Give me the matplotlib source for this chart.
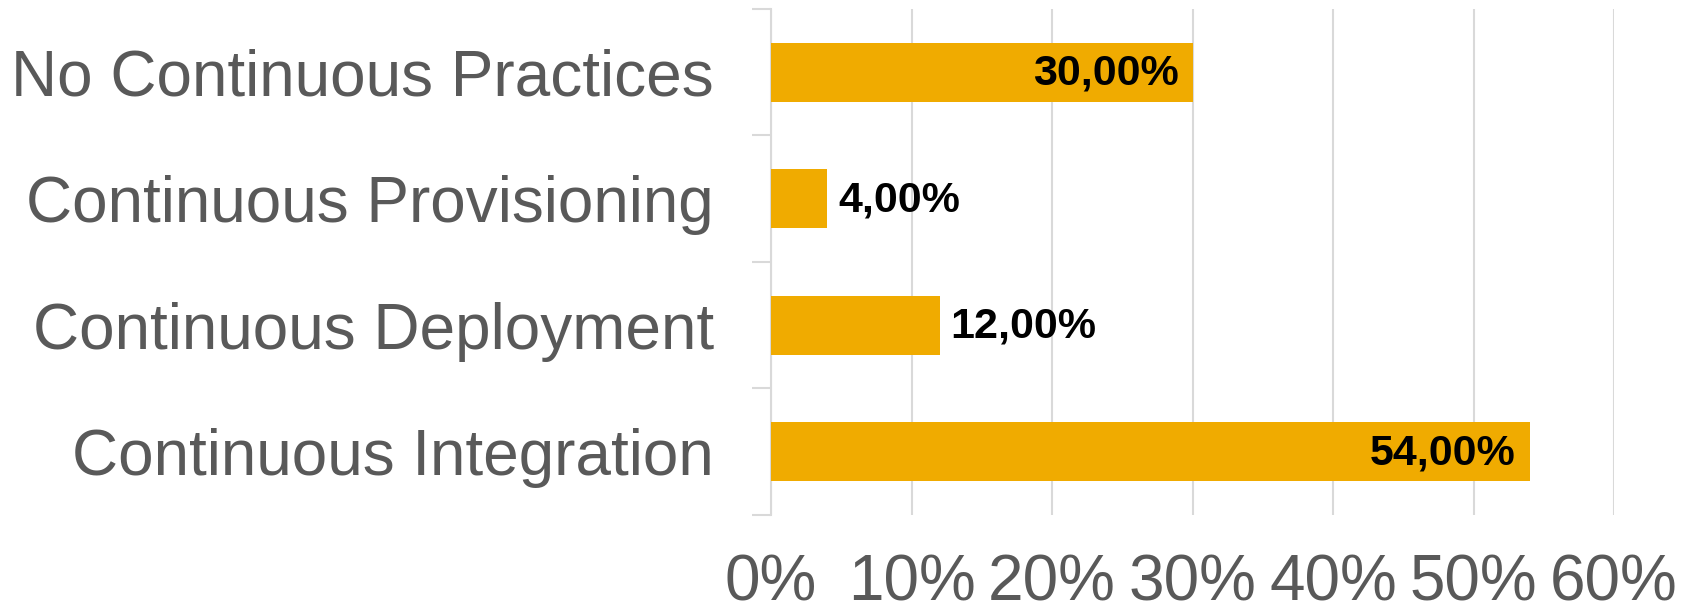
import matplotlib
matplotlib.use("Agg")
import matplotlib.pyplot as plt
from matplotlib.ticker import FixedLocator, PercentFormatter

categories = ["Continuous Integration", "Continuous Deployment",
              "Continuous Provisioning", "No Continuous Practices"]
shares = [54.0, 12.0, 4.0, 30.0]
x_ticks = [0, 10, 20, 30, 40, 50, 60]
inside_labels = {"Continuous Integration", "No Continuous Practices"}

BAR = "#F0AB00"
GRID = "#D9D9D9"
TEXT = "#595959"

fig = plt.figure(figsize=(16.96, 6.16), dpi=100)
ax = fig.add_axes([0.4546, 0.164, 0.9517 - 0.4546, 0.9854 - 0.164])

y = list(range(len(categories)))
ax.barh(y, shares, height=0.47, color=BAR, zorder=3)

ax.set_xlim(0, 60)
ax.set_ylim(-0.5, len(categories) - 0.5)
ax.xaxis.set_major_locator(FixedLocator(x_ticks))
ax.xaxis.set_major_formatter(PercentFormatter(decimals=0))
ax.grid(axis="x", color=GRID, linewidth=1.5, zorder=0)

ax.set_yticks(y)
ax.set_yticklabels(categories)
ax.set_yticks([i - 0.5 for i in range(len(categories) + 1)], minor=True)
ax.tick_params(axis="y", which="major", length=0, pad=41,
               labelsize=46, labelcolor=TEXT)
ax.tick_params(axis="y", which="minor", length=13.7, width=1.5, color=GRID)
ax.tick_params(axis="x", length=0, pad=28, labelsize=46, labelcolor=TEXT)
for lab in ax.get_yticklabels():
    lab.set_family(["Liberation Sans", "DejaVu Sans"])
for lab in ax.get_xticklabels():
    lab.set_family(["Liberation Sans", "DejaVu Sans"])

for side in ("top", "right", "bottom"):
    ax.spines[side].set_visible(False)
ax.spines["left"].set_color(GRID)
ax.spines["left"].set_linewidth(1.5)

for yi, cat, v in zip(y, categories, shares):
    txt = f"{v:.2f}%".replace(".", ",")
    inside = cat in inside_labels
    ax.annotate(txt, (v, yi), xytext=(-10 if inside else 8, -1),
                textcoords="offset points",
                ha="right" if inside else "left", va="center",
                fontsize=31, fontweight="bold", color="black",
                family=["Liberation Sans", "DejaVu Sans"], zorder=4)

fig.savefig("out.png", dpi=100)
